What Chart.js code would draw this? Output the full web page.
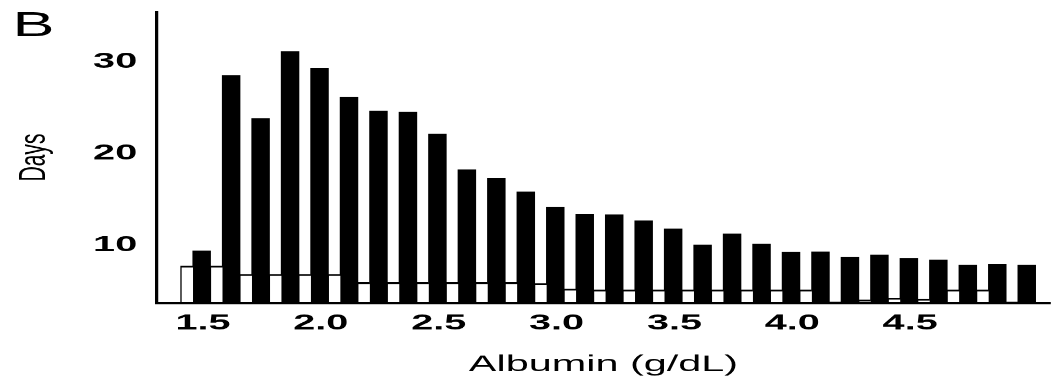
<!DOCTYPE html>
<html>
<head>
<meta charset="utf-8">
<script src="https://cdn.jsdelivr.net/npm/chart.js@4.4.1/dist/chart.umd.min.js"></script>
<style>
  html, body { margin: 0; padding: 0; background: #fff; }
</style>
</head>
<body>
<!-- the scanned figure is stretched sideways, so the chart is laid out 584 wide
     and shown 1051 wide (devicePixelRatio below does the vertical part) -->
<canvas id="albChart" width="584" height="380" style="width:1051px;height:380px"></canvas>
<script>
const stretch = 1.8;

// albumin bins (g/dL), one white + one black bar per bin
const albumin = [1.5, 1.625, 1.75, 1.875, 2.0, 2.125, 2.25, 2.375, 2.5, 2.625,
  2.75, 2.875, 3.0, 3.125, 3.25, 3.375, 3.5, 3.625, 3.75, 3.875,
  4.0, 4.125, 4.25, 4.375, 4.5, 4.625, 4.75, 4.875, 5.0];

// open bars (days)
const openDays = [7.7, 7.7, 6.8, 6.8, 6.8, 6.8, 5.9, 5.9, 5.9, 5.9,
  5.9, 5.9, 5.8, 5.2, 5.1, 5.1, 5.1, 5.1, 5.1, 5.1,
  5.1, 5.1, 3.8, 4.0, 4.2, 4.1, 5.1, 5.1, 3.8];

// filled bars (days)
const filledDays = [9.35, 28.5, 23.8, 31.1, 29.3, 26.1, 24.6, 24.5, 22.1, 18.2,
  17.3, 15.8, 14.1, 13.35, 13.3, 12.65, 11.75, 10.0, 11.2, 10.1,
  9.2, 9.25, 8.65, 8.9, 8.55, 8.35, 7.8, 7.9, 7.8];

const xTicks = [1.5, 2.0, 2.5, 3.0, 3.5, 4.0, 4.5];
const yTicks = [10, 20, 30];

Chart.defaults.font.family = '"Liberation Sans", Arial, sans-serif';
Chart.defaults.font.weight = 'bold';
Chart.defaults.color = '#000';

// panel letter in the top left corner
const panelLabel = {
  id: 'panelLabel',
  afterDraw(chart) {
    const ctx = chart.ctx;
    ctx.save();
    ctx.font = '35px "Liberation Sans", Arial, sans-serif';
    ctx.fillStyle = '#000';
    ctx.textBaseline = 'alphabetic';
    ctx.fillText('B', 7, 36);
    ctx.restore();
  }
};

const ctx = document.getElementById('albChart').getContext('2d');
const albChart = new Chart(ctx, {
  type: 'bar',
  data: {
    labels: albumin,
    datasets: [
      {
        label: 'open',
        data: openDays,
        backgroundColor: '#fff',
        borderColor: '#000',
        borderWidth: { top: 1.8, left: 0.8, right: 0, bottom: 0 },
        barThickness: 6.8,
        clip: 0,
      },
      {
        label: 'filled',
        data: filledDays,
        backgroundColor: '#000',
        borderWidth: 0,
        barThickness: 9.6,
        clip: 0,
      },
    ],
  },
  options: {
    responsive: false,
    devicePixelRatio: stretch,
    animation: false,
    events: [],
    layout: { padding: { top: 12, right: 0.7, left: 0, bottom: 0 } },
    plugins: { legend: { display: false }, tooltip: { enabled: false } },
    scales: {
      x: {
        type: 'linear',
        offset: false,
        bounds: 'data',
        min: 1.347,
        max: 5.135,
        afterBuildTicks: (s) => { s.ticks = xTicks.map((v) => ({ value: v })); },
        afterFit: (s) => { s.height = 77; s.paddingLeft = 0; s.paddingRight = 0; },
        grid: { display: false, drawTicks: false },
        border: { display: true, color: '#000', width: 2, z: 1 },
        ticks: {
          font: { size: 22 },
          padding: 7.3,
          labelOffset: 5.5,
          autoSkip: false,
          maxRotation: 0,
          callback: (v) => Number(v).toFixed(1),
        },
        title: {
          display: true,
          text: 'Albumin (g/dL)',
          font: { size: 23, weight: 'normal' },
          padding: { top: 0, bottom: 1.5 },
        },
      },
      y: {
        bounds: 'data',
        min: 3.67,
        max: 35.42,
        afterBuildTicks: (s) => { s.ticks = yTicks.map((v) => ({ value: v })); },
        afterFit: (s) => { s.width = 87.2; s.paddingTop = 0; s.paddingBottom = 0; },
        grid: { display: false, drawTicks: false },
        border: { display: true, color: '#000', width: 1.8, z: 1 },
        ticks: { font: { size: 22 }, padding: 11 },
        title: {
          display: true,
          text: 'Days',
          font: { size: 21, weight: 'normal' },
          padding: { top: 6.6, bottom: 0 },
        },
      },
    },
  },
  plugins: [panelLabel],
});
</script>
</body>
</html>
